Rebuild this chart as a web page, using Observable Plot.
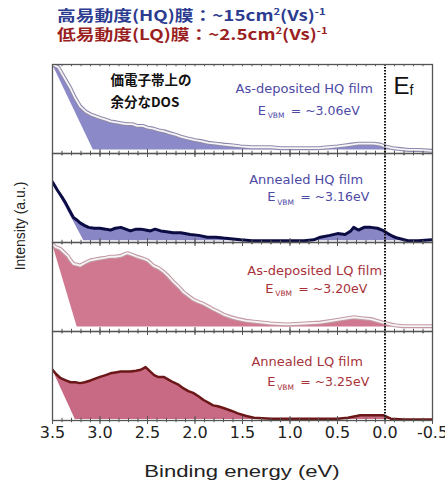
<!DOCTYPE html>
<html><head><meta charset="utf-8">
<script src="https://cdn.jsdelivr.net/npm/d3@7"></script>
<script src="https://cdn.jsdelivr.net/npm/@observablehq/plot@0.6"></script>
<style>
body{margin:0;background:#fff;}
#wrap{position:relative;width:445px;height:483px;overflow:hidden;background:#fff;}
#title{height:42px;position:relative;}
.tl{position:absolute;left:57px;height:17px;font-family:"Noto Sans CJK JP";font-weight:700;font-size:15px;line-height:17px;white-space:nowrap;transform:scaleX(1.25);transform-origin:left center;}
.sup{font-size:9px;vertical-align:6px;line-height:0;}
#ylab{position:absolute;left:20px;top:226px;transform:translate(-50%,-50%) rotate(-90deg);font-family:"Liberation Sans";font-size:14px;color:#222;white-space:nowrap;}
#xlab{position:absolute;left:242px;top:472px;transform:translate(-50%,-50%) scaleX(1.3);font-family:"Liberation Sans";font-size:17px;color:#222;white-space:nowrap;}
</style></head>
<body><div id="wrap">
<div id="title">
<div class="tl" style="top:6px;color:#2c3c90">高易動度(HQ)膜：~15cm<span class="sup">2</span>(Vs)<span class="sup">-1</span></div>
<div class="tl" style="top:25px;color:#9a1f1f">低易動度(LQ)膜：~2.5cm<span class="sup">2</span>(Vs)<span class="sup">-1</span></div>
</div>
<div id="chart"></div>
<div id="ylab">Intensity (a.u.)</div>
<div id="xlab">Binding energy (eV)</div>
</div>
<script>
// Panel names (top to bottom)
const panels = ["As-deposited HQ film", "Annealed HQ film", "As-deposited LQ film", "Annealed LQ film"];
const vbmLabels = ["= ~3.06eV", "= ~3.16eV", "= ~3.20eV", "= ~3.25eV"];
// Linear-extrapolation intercepts (where the shaded edge meets the baseline) and baselines
const vbmFit = [3.07, 3.17, 3.24, 3.26];
const baseLevel = [0.04, 0.02, 0.05, 0.01];
const xTickLabels = [3.5, 3.0, 2.5, 2.0, 1.5, 1.0, 0.5, 0.0, -0.5];

// As-deposited HQ film
const eAsDepHQ = [3.50,3.44,3.38,3.31,3.26,3.21,3.15,3.10,3.05,3.00,2.94,2.89,2.83,2.78,2.72,2.66,2.61,2.55,2.50,2.44,2.38,2.33,2.27,2.20,2.15,2.08,2.00,1.94,1.86,1.78,1.70,1.60,1.52,1.40,1.30,1.20,1.10,1.00,0.90,0.80,0.70,0.60,0.50,0.42,0.35,0.28,0.20,0.12,0.05,0.00,-0.08,-0.16,-0.25,-0.35,-0.50];
const iAsDepHQ = [1.00,0.97,0.86,0.73,0.62,0.53,0.47,0.44,0.42,0.40,0.38,0.36,0.35,0.34,0.33,0.33,0.31,0.31,0.29,0.28,0.26,0.25,0.23,0.21,0.19,0.17,0.15,0.14,0.12,0.11,0.10,0.09,0.08,0.07,0.07,0.07,0.06,0.06,0.06,0.06,0.06,0.07,0.08,0.09,0.10,0.11,0.11,0.11,0.10,0.08,0.06,0.05,0.04,0.04,0.03];
// Annealed HQ film
const eAnnHQ = [3.50,3.45,3.40,3.36,3.32,3.28,3.24,3.21,3.16,3.12,3.06,3.00,2.94,2.89,2.84,2.78,2.73,2.68,2.62,2.57,2.52,2.47,2.42,2.36,2.30,2.23,2.15,2.05,1.96,1.87,1.78,1.70,1.60,1.52,1.40,1.20,1.00,0.85,0.75,0.68,0.58,0.50,0.42,0.36,0.33,0.28,0.22,0.15,0.08,0.03,-0.03,-0.08,-0.13,-0.24,-0.35,-0.50];
const iAnnHQ = [0.68,0.59,0.51,0.44,0.36,0.28,0.25,0.22,0.19,0.17,0.16,0.16,0.15,0.14,0.16,0.17,0.15,0.13,0.15,0.15,0.14,0.13,0.15,0.13,0.12,0.11,0.11,0.09,0.08,0.06,0.06,0.05,0.04,0.03,0.02,0.02,0.02,0.02,0.03,0.06,0.08,0.10,0.09,0.13,0.17,0.14,0.17,0.17,0.16,0.14,0.10,0.07,0.05,0.02,0.02,0.03];
// As-deposited LQ film
const eAsDepLQ = [3.50,3.47,3.42,3.38,3.34,3.31,3.28,3.24,3.21,3.16,3.10,3.05,3.00,2.94,2.89,2.84,2.78,2.74,2.71,2.66,2.61,2.55,2.50,2.44,2.38,2.33,2.28,2.23,2.17,2.12,2.07,2.02,1.96,1.91,1.86,1.81,1.75,1.70,1.62,1.55,1.46,1.38,1.20,1.03,0.85,0.68,0.50,0.33,0.25,0.15,0.02,-0.10,-0.19,-0.35,-0.50];
const iAsDepLQ = [0.98,0.95,0.93,0.89,0.85,0.80,0.76,0.75,0.74,0.77,0.80,0.81,0.82,0.83,0.84,0.84,0.85,0.87,0.88,0.86,0.84,0.82,0.80,0.74,0.71,0.67,0.62,0.56,0.50,0.44,0.40,0.36,0.33,0.31,0.28,0.25,0.22,0.19,0.16,0.14,0.12,0.11,0.09,0.08,0.09,0.10,0.13,0.16,0.15,0.14,0.10,0.07,0.06,0.06,0.06];
// Annealed LQ film
const eAnnLQ = [3.50,3.46,3.42,3.36,3.31,3.26,3.21,3.16,3.10,3.05,3.00,2.94,2.89,2.84,2.78,2.73,2.68,2.62,2.57,2.52,2.47,2.43,2.39,2.33,2.28,2.23,2.17,2.12,2.07,2.02,1.96,1.91,1.86,1.81,1.76,1.70,1.62,1.55,1.46,1.38,1.20,1.03,0.85,0.68,0.50,0.39,0.30,0.26,0.15,0.02,-0.06,-0.20,-0.37,-0.50];
const iAnnLQ = [0.57,0.52,0.48,0.45,0.43,0.43,0.42,0.43,0.45,0.47,0.49,0.51,0.53,0.54,0.55,0.55,0.55,0.56,0.57,0.60,0.55,0.51,0.49,0.49,0.46,0.43,0.40,0.36,0.33,0.31,0.27,0.23,0.20,0.17,0.16,0.14,0.11,0.08,0.05,0.03,0.02,0.02,0.02,0.02,0.02,0.03,0.05,0.06,0.06,0.06,0.02,0.01,0.01,0.01];

const energies = [eAsDepHQ, eAnnHQ, eAsDepLQ, eAnnLQ];
const intens = [iAsDepHQ, iAnnHQ, iAsDepLQ, iAnnLQ];

const fills = ["#8b89c7", "#8886c4", "#d0788f", "#c96a85"];
const labelColors = ["#4d4aa6", "#4d4aa6", "#a8323a", "#a8323a"];
// annotation positions (energy, intensity) per panel
const nameX = [0.85, 0.83, 0.74, 0.82];
const nameY = [0.73, 0.70, 0.68, 0.66];
const eStartX = [1.34, 1.24, 1.26, 1.24];
const eY = [0.48, 0.51, 0.48, 0.43];

const marks = [];
panels.forEach((p, k) => {
  const rows = energies[k].map((e, j) => ({panel: p, e, i: intens[k][j]}));
  const b = baseLevel[k];
  marks.push(Plot.areaY(rows, {x: "e", y1: b, y2: "i", fy: "panel", fill: fills[k], clip: true}));
  // white triangle left of the linear extrapolation
  const tri = [{panel: p, e: rows[0].e, top: rows[0].i}, {panel: p, e: vbmFit[k], top: b}];
  marks.push(Plot.areaY(tri, {x: "e", y1: b - 0.01, y2: "top", fy: "panel", fill: "white", clip: true}));
  if (k % 2 === 0) {
    const outer = k === 0 ? "#8f8aab" : "#c29ba3";
    marks.push(Plot.lineY(rows, {x: "e", y: "i", fy: "panel", stroke: outer, strokeWidth: 4, clip: true}));
    marks.push(Plot.lineY(rows, {x: "e", y: "i", fy: "panel", stroke: "#f6f4f6", strokeWidth: 1.8, clip: true}));
  } else {
    const dark = k === 1 ? "#0c0c44" : "#6b1717";
    marks.push(Plot.lineY(rows, {x: "e", y: "i", fy: "panel", stroke: dark, strokeWidth: k === 1 ? 3 : 2.5, clip: true}));
  }
});

const minorTicks = d3.range(-5, 36).map(d => d / 10);
const majorTicks = xTickLabels;
marks.push(Plot.ruleX(minorTicks, {x: d => d, y1: -0.025, y2: 0.025, stroke: "#555", strokeWidth: 1}));
marks.push(Plot.ruleX(majorTicks, {x: d => d, y1: -0.045, y2: 0.045, stroke: "#555", strokeWidth: 1}));
marks.push(Plot.ruleX(minorTicks, {x: d => d, y1: 0.975, y2: 1.0, stroke: "#555", strokeWidth: 1}));
marks.push(Plot.ruleX([0], {stroke: "#111", strokeWidth: 2, strokeDasharray: "1.6,1.4"}));
marks.push(Plot.frame({stroke: "#555", strokeWidth: 1.3}));

// annotations
const ann = panels.map((p, k) => ({panel: p, k}));
marks.push(Plot.text(ann, {x: d => nameX[d.k], y: d => nameY[d.k], fy: "panel", text: "panel", fill: d => labelColors[d.k], fontSize: 13, fontFamily: "DejaVu Sans"}));
marks.push(Plot.text(ann, {x: d => eStartX[d.k], y: d => eY[d.k], fy: "panel", text: () => "E", textAnchor: "start", fill: d => labelColors[d.k], fontSize: 13, fontFamily: "DejaVu Sans"}));
marks.push(Plot.text(ann, {x: d => eStartX[d.k], y: d => eY[d.k], fy: "panel", text: () => "VBM", dx: 10, dy: 5, textAnchor: "start", fill: d => labelColors[d.k], fontSize: 7.5, fontFamily: "DejaVu Sans"}));
marks.push(Plot.text(ann, {x: d => eStartX[d.k], y: d => eY[d.k], fy: "panel", text: d => vbmLabels[d.k], dx: 33, textAnchor: "start", fill: d => labelColors[d.k], fontSize: 12.5, fontFamily: "DejaVu Sans"}));

// Japanese note and Ef in top panel
const noteLines = ["価電子帯上の", "余分なDOS"];
const noteRows = noteLines.map((t, j) => ({panel: panels[0], t, y: j === 0 ? 0.82 : 0.57}));
marks.push(Plot.text(noteRows, {x: 2.89, y: "y", fy: "panel", text: "t", textAnchor: "start", fill: "#111", fontSize: 13.5, fontWeight: "bold", fontFamily: "Noto Sans CJK JP"}));
const efRow = [{panel: panels[0]}];
marks.push(Plot.text(efRow, {x: -0.09, y: 0.75, fy: "panel", text: () => "E", textAnchor: "start", fill: "#111", fontSize: 24, fontFamily: "Liberation Sans"}));
marks.push(Plot.text(efRow, {x: -0.09, y: 0.75, fy: "panel", text: () => "f", dx: 16, dy: 4, textAnchor: "start", fill: "#111", fontSize: 14, fontFamily: "Liberation Sans"}));

const chart = Plot.plot({
  width: 445,
  height: 441,
  marginTop: 22,
  marginBottom: 63,
  marginLeft: 52,
  marginRight: 13,
  style: {fontFamily: "DejaVu Sans", fontSize: "16px", color: "#222", background: "white"},
  x: {domain: [3.5, -0.5], ticks: xTickLabels, tickFormat: d => d.toFixed(1), tickSize: 0, tickPadding: 6, label: null},
  y: {domain: [0, 1], axis: null},
  fy: {domain: panels, axis: null, padding: 0, paddingInner: 0, paddingOuter: 0},
  marks
});
document.getElementById("chart").appendChild(chart);
</script>
</body></html>
